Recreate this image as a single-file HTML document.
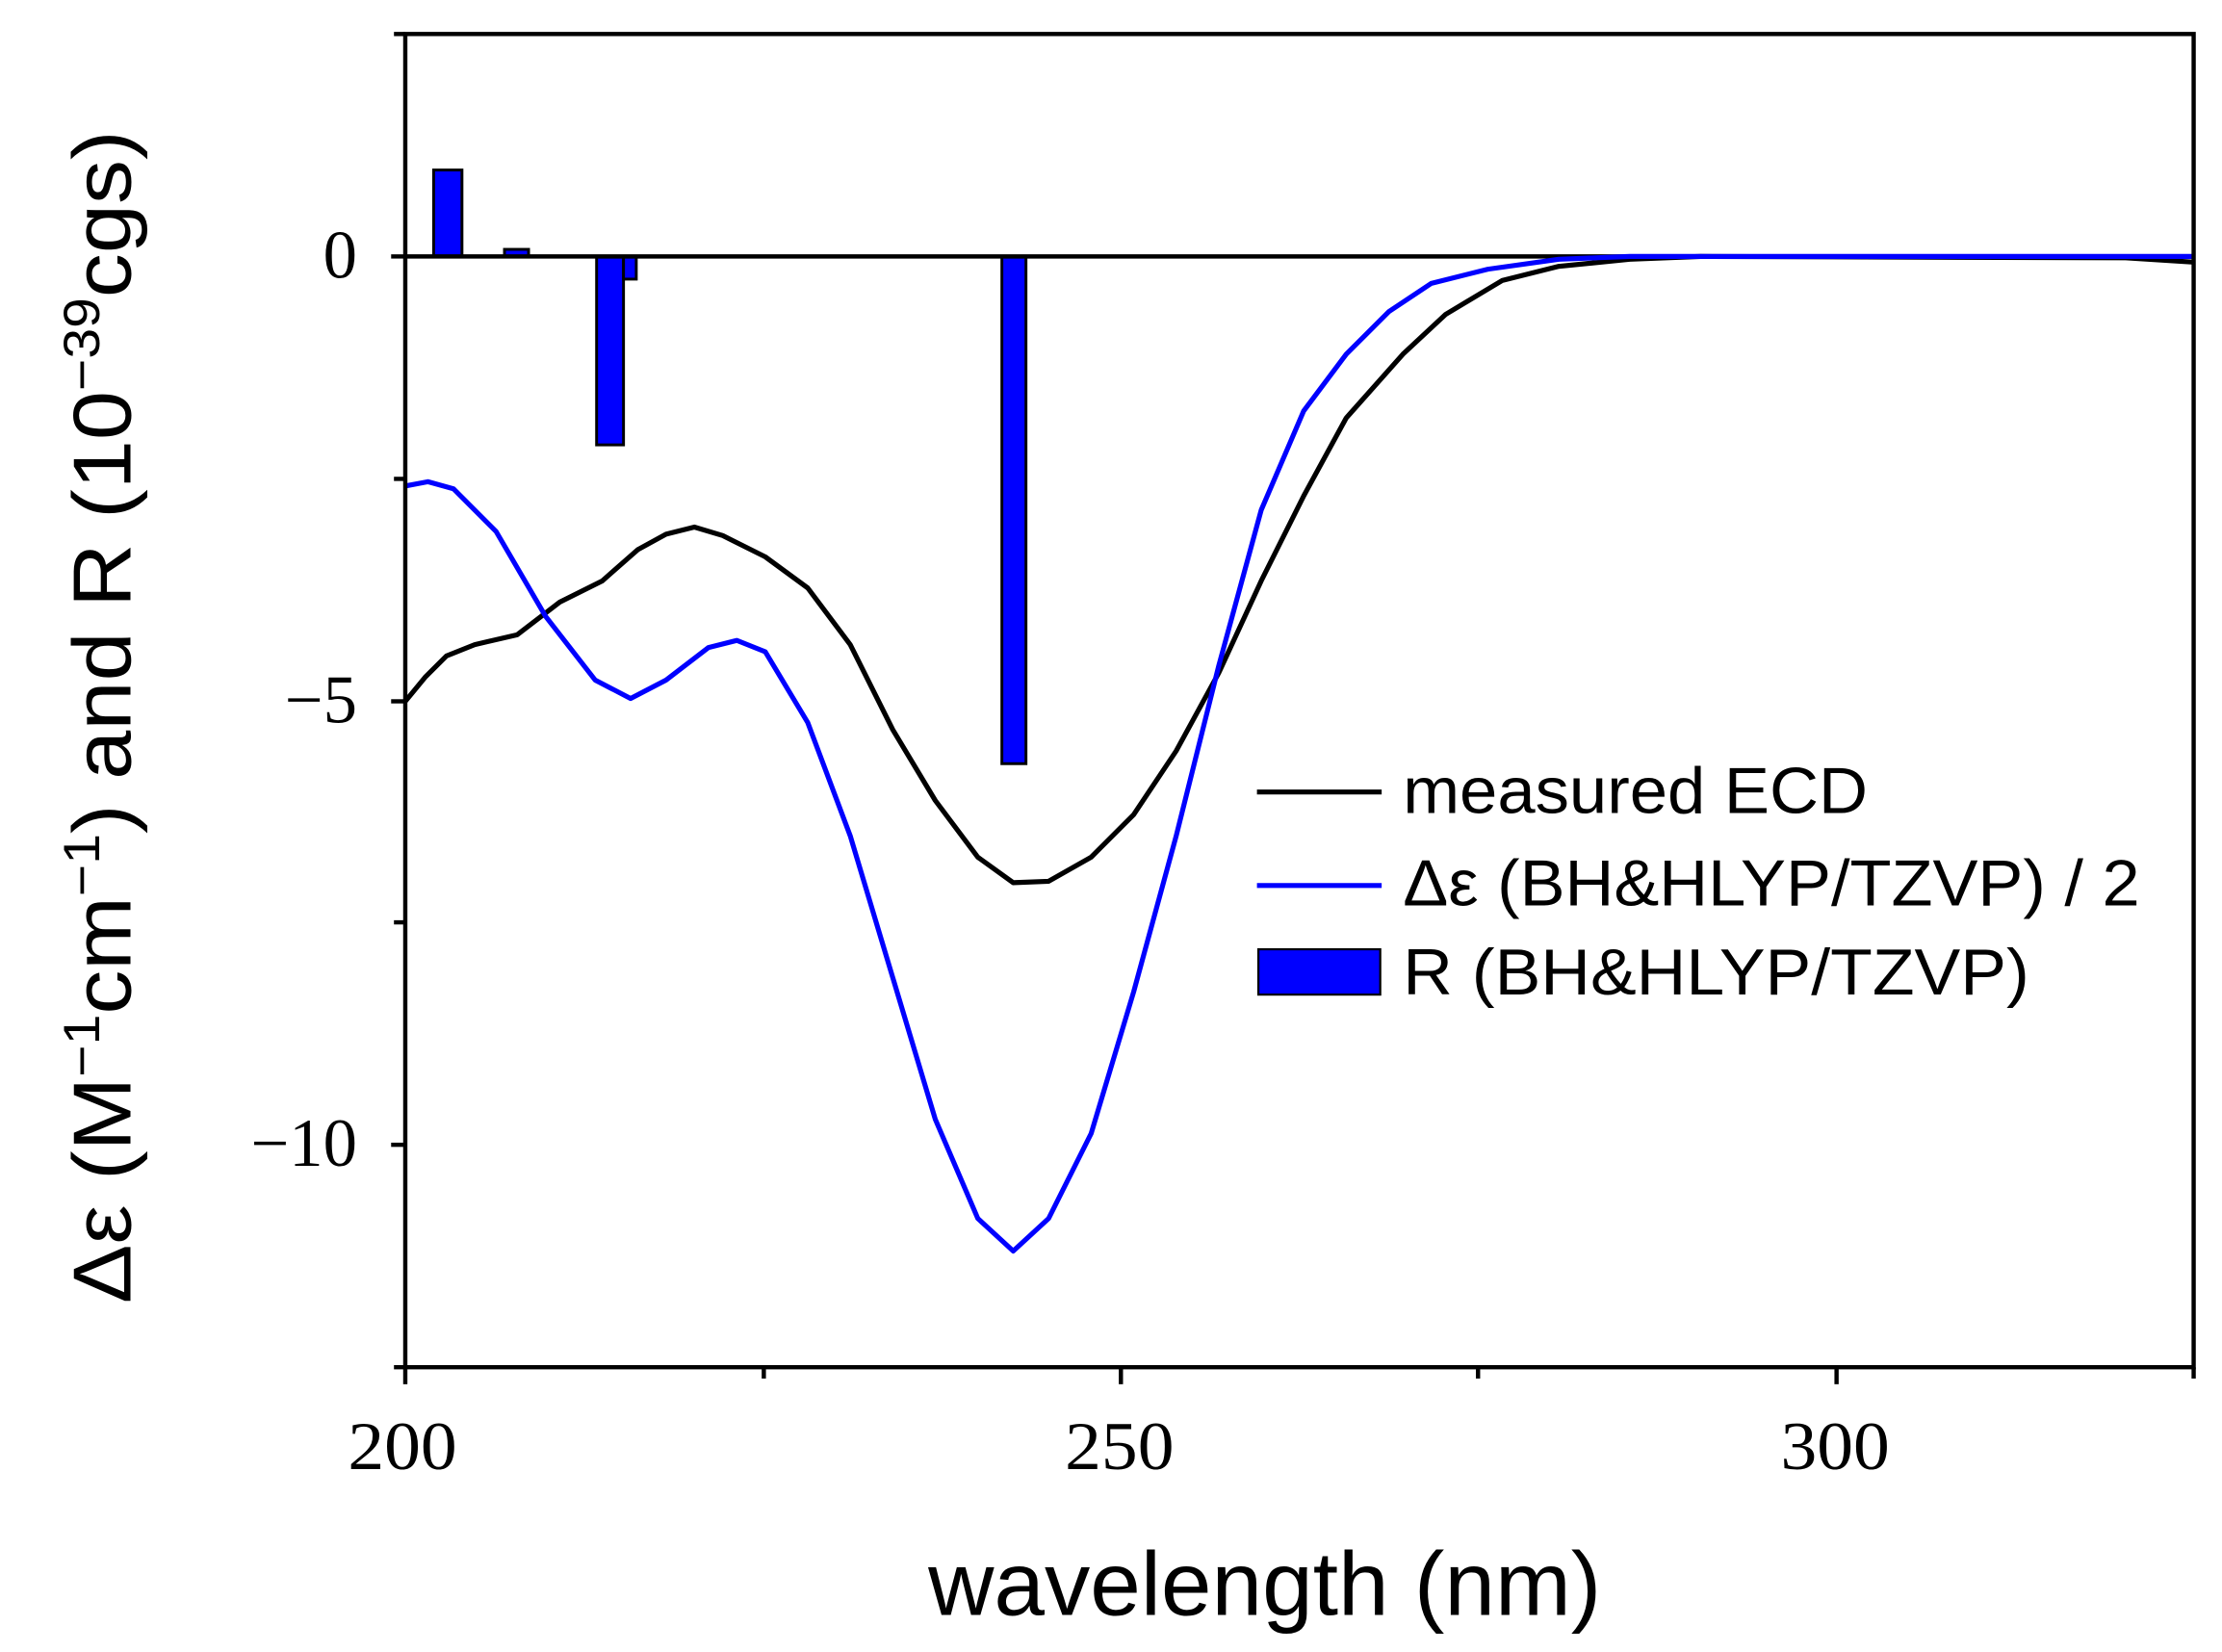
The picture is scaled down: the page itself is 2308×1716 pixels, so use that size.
<!DOCTYPE html>
<html><head><style>html,body{margin:0;padding:0;background:#fff}svg{display:block}</style></head>
<body>
<svg width="2308" height="1716" viewBox="0 0 1568 1166" preserveAspectRatio="none" xmlns="http://www.w3.org/2000/svg">
<rect width="1568" height="1166" fill="#fff"/>
<g fill="#0000ff" stroke="#000" stroke-width="2">
<rect x="306" y="120" width="20" height="61"/>
<rect x="356" y="176" width="17" height="5"/>
<rect x="421" y="181" width="19" height="133"/>
<rect x="440" y="181" width="9" height="16"/>
<rect x="707" y="181" width="17" height="358"/>
</g>
<line x1="286" y1="181" x2="1548" y2="181" stroke="#000" stroke-width="3"/>
<polyline fill="none" stroke="#000" stroke-width="3.5" stroke-linejoin="round" points="286,495 300,478 315,463 335,455 365,448 395,425 425,410 450,388 470,377 490,372 510,378 540,393 570,415 600,455 630,515 660,565 690,605 715,623 740,622 770,605 800,575 830,530 860,475 890,410 920,350 950,295 990,250 1020,222 1060,198 1100,188 1150,183 1200,181 1500,182 1548,185"/>
<polyline fill="none" stroke="#0000ff" stroke-width="3.5" stroke-linejoin="round" points="286,343 302,340 320,345 350,375 385,435 420,480 445,493 470,480 500,457 520,452 540,460 570,510 600,590 630,690 660,790 690,860 715,883 740,860 770,800 800,700 830,590 860,470 890,360 920,290 950,250 980,220 1010,200 1050,190 1100,183 1150,181 1548,181"/>
<g stroke="#000" stroke-width="3" fill="none">
<rect x="286" y="24" width="1262" height="941"/>
<line x1="276" y1="181" x2="286" y2="181"/>
<line x1="276" y1="495" x2="286" y2="495"/>
<line x1="276" y1="808" x2="286" y2="808"/>
<line x1="278" y1="338" x2="286" y2="338"/>
<line x1="278" y1="651" x2="286" y2="651"/>
<line x1="278" y1="965" x2="286" y2="965"/>
<line x1="278" y1="24" x2="286" y2="24"/>
<line x1="286" y1="965" x2="286" y2="977"/>
<line x1="539" y1="965" x2="539" y2="973"/>
<line x1="791" y1="965" x2="791" y2="977"/>
<line x1="1043" y1="965" x2="1043" y2="973"/>
<line x1="1296" y1="965" x2="1296" y2="977"/>
<line x1="1548" y1="965" x2="1548" y2="973"/>
</g>
<g font-family="Liberation Serif, serif" font-size="48" fill="#000">
<text x="252" y="196" text-anchor="end">0</text>
<text x="252" y="510" text-anchor="end">−5</text>
<text x="252" y="823" text-anchor="end">−10</text>
<text x="284" y="1037" text-anchor="middle" textLength="77" lengthAdjust="spacingAndGlyphs">200</text>
<text x="790" y="1037" text-anchor="middle" textLength="77" lengthAdjust="spacingAndGlyphs">250</text>
<text x="1295" y="1037" text-anchor="middle" textLength="77" lengthAdjust="spacingAndGlyphs">300</text>
</g>
<text x="655" y="1140" font-family="Liberation Sans, sans-serif" font-size="64" textLength="475" lengthAdjust="spacingAndGlyphs">wavelength (nm)</text>
<text transform="translate(92,920) rotate(-90)" font-family="Liberation Sans, sans-serif" font-size="58" textLength="828" lengthAdjust="spacingAndGlyphs">Δε (M<tspan dy="-22" font-size="36">−1</tspan><tspan dy="22">cm</tspan><tspan dy="-22" font-size="36">−1</tspan><tspan dy="22">) and R (10</tspan><tspan dy="-22" font-size="36">−39</tspan><tspan dy="22">cgs)</tspan></text>
<g font-family="Liberation Sans, sans-serif" font-size="46" fill="#000">
<line x1="887" y1="559" x2="975" y2="559" stroke="#000" stroke-width="3.5"/>
<text x="990" y="574" textLength="328" lengthAdjust="spacingAndGlyphs">measured ECD</text>
<line x1="887" y1="625" x2="975" y2="625" stroke="#0000ff" stroke-width="3.5"/>
<text x="990" y="639" textLength="520" lengthAdjust="spacingAndGlyphs">Δε (BH&amp;HLYP/TZVP) / 2</text>
<rect x="888" y="670" width="86" height="32" fill="#0000ff" stroke="#000" stroke-width="1.5"/>
<text x="990" y="702" textLength="442" lengthAdjust="spacingAndGlyphs">R (BH&amp;HLYP/TZVP)</text>
</g>
</svg>
</body></html>
